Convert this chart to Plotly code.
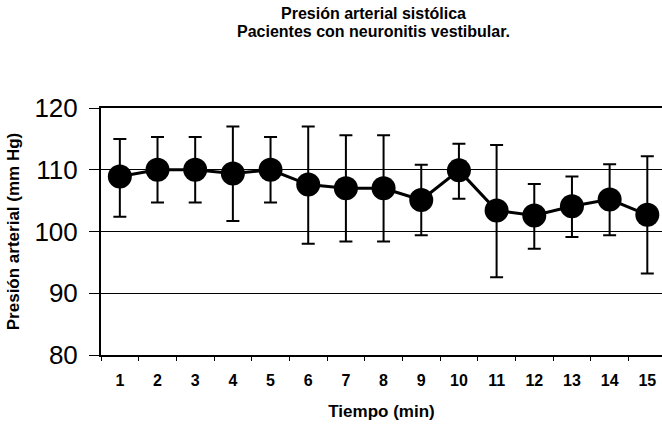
import plotly.graph_objects as go

tiempo = ["1", "2", "3", "4", "5", "6", "7", "8", "9", "10", "11", "12", "13", "14", "15"]
presion = [108.9, 110.0, 110.0, 109.4, 110.0, 107.6, 107.0, 107.0, 105.1, 109.9, 103.4, 102.6, 104.1, 105.2, 102.7]
error_sup = [115.0, 115.3, 115.3, 117.0, 115.3, 117.0, 115.6, 115.6, 110.8, 114.2, 114.0, 107.7, 108.9, 110.9, 112.2]
error_inf = [102.4, 104.7, 104.7, 101.7, 104.7, 98.0, 98.4, 98.4, 99.4, 105.3, 92.6, 97.2, 99.1, 99.4, 93.2]

err_plus = [s - p for s, p in zip(error_sup, presion)]
err_minus = [p - i for p, i in zip(presion, error_inf)]

fig = go.Figure()
fig.add_trace(go.Scatter(
    x=tiempo, y=presion,
    mode="lines+markers",
    line=dict(color="black", width=3),
    marker=dict(color="black", size=24),
    error_y=dict(type="data", symmetric=False, array=err_plus, arrayminus=err_minus,
                 color="black", thickness=2, width=6.5),
    showlegend=False,
    cliponaxis=False,
))

title_x = (373 - 101) / 561

fig.update_layout(
    width=662, height=424,
    paper_bgcolor="white", plot_bgcolor="white",
    margin=dict(l=101, r=0, t=108, b=69),
    font=dict(family="Liberation Sans, Arial", color="black"),
    annotations=[
        dict(text="<b>Presión arterial sistólica</b>", xref="paper", yref="paper",
             x=title_x, y=1, yshift=95, xanchor="center", yanchor="middle",
             showarrow=False, font=dict(size=16)),
        dict(text="<b>Pacientes con neuronitis vestibular.</b>", xref="paper", yref="paper",
             x=title_x, y=1, yshift=76.5, xanchor="center", yanchor="middle",
             showarrow=False, font=dict(size=16)),
    ],
)

fig.update_xaxes(
    type="category",
    range=[-0.5, 14.39],
    automargin=False,
    showline=True, linecolor="black", linewidth=2, mirror=True,
    ticks="outside", tickson="boundaries", ticklen=4, tickcolor="black", tickwidth=1,
    showgrid=False,
    tickfont=dict(size=16, weight="bold"),
    ticklabelstandoff=10,
    title=dict(text="<b>Tiempo (min)</b>", font=dict(size=17), standoff=17),
)
fig.update_yaxes(
    range=[80, 120],
    tickvals=[80, 90, 100, 110, 120],
    automargin=False,
    showline=True, linecolor="black", linewidth=2,
    ticks="outside", ticklen=10, tickcolor="black", tickwidth=1,
    showgrid=True, gridcolor="black", gridwidth=1.2,
    tickfont=dict(size=26),
    ticklabelstandoff=6,
    title=dict(text="<b>Presión arterial (mm Hg)</b>", font=dict(size=17), standoff=10),
    zeroline=False,
)

fig.write_html("out.html", config={"displayModeBar": False},
               post_script="document.body.style.margin='0';")
